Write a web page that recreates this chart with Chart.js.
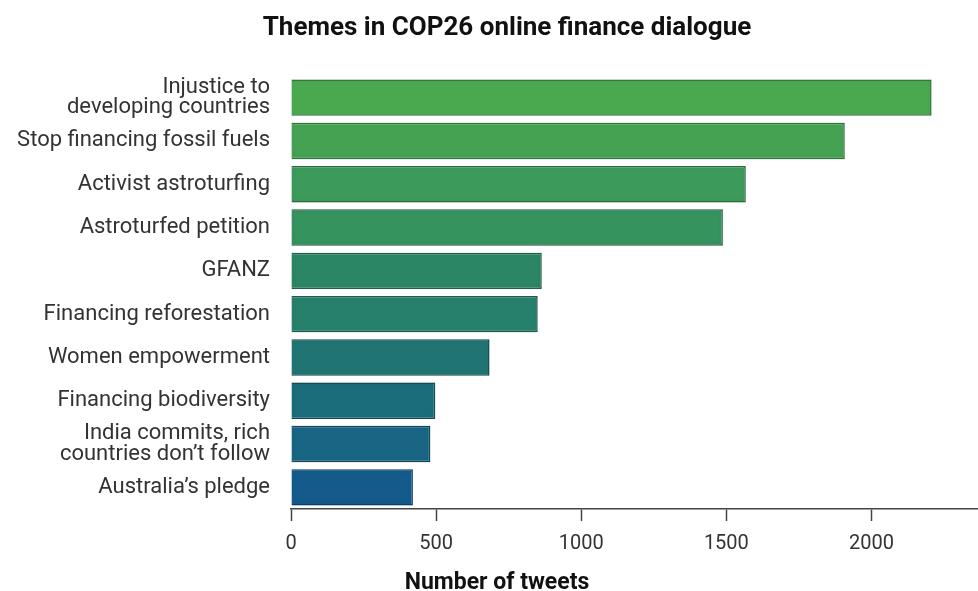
<!DOCTYPE html>
<html>
<head>
<meta charset="utf-8">
<script src="https://cdn.jsdelivr.net/npm/chart.js@4.4.1/dist/chart.umd.min.js"></script>
<style>
  html, body { margin: 0; padding: 0; background: #fff; }
  #wrap { width: 978px; height: 591px; }
</style>
</head>
<body>
<div id="wrap"><canvas id="themesChart"></canvas></div>
<script>
// tweet counts per theme, top to bottom
const themes = [
  ['Injustice to', 'developing countries'],
  'Stop financing fossil fuels',
  'Activist astroturfing',
  'Astroturfed petition',
  'GFANZ',
  'Financing reforestation',
  'Women empowerment',
  'Financing biodiversity',
  ['India commits, rich', 'countries don\u2019t follow'],
  'Australia\u2019s pledge'
];
const tweets = [2207, 1908, 1567, 1488, 864, 850, 684, 497, 480, 420];
const xTicks = [0, 500, 1000, 1500, 2000];

const chartTitle = 'Themes in COP26 online finance dialogue';
const xTitle = 'Number of tweets';

// green at the top fading to blue at the bottom
const barColors = ['#4aa94f', '#45a252', '#3c9a5a', '#35935e', '#2b8665', '#27806b', '#207573', '#1b6d7b', '#186683', '#145b8c'];
const edgeColors = ['#327a38', '#2f763b', '#2a7042', '#256a46', '#1f624b', '#1b5d50', '#165456', '#134e5c', '#114963', '#0d406a'];

const ctx = document.getElementById('themesChart').getContext('2d');
const font = 'Roboto, "Noto Sans", sans-serif';

// soft dark rim inside each bar
const barShade = {
  id: 'barShade',
  afterDatasetsDraw(chart) {
    const c = chart.ctx;
    chart.getDatasetMeta(0).data.forEach((bar) => {
      const left = Math.min(bar.base, bar.x);
      const w = Math.abs(bar.x - bar.base);
      const top = bar.y - bar.height / 2;
      c.save();
      c.beginPath();
      c.rect(left, top, w, bar.height);
      c.clip();
      c.shadowColor = 'rgba(0,0,0,0.35)';
      c.shadowBlur = 7;
      c.lineWidth = 6;
      c.strokeStyle = 'rgba(0,0,0,0.15)';
      c.strokeRect(left - 3, top - 3, w + 6, bar.height + 6);
      c.restore();
    });
  }
};

// heading and x axis caption, centred over the whole figure
const captions = {
  id: 'captions',
  afterDraw(chart) {
    const c = chart.ctx;
    c.save();
    c.fillStyle = '#111';
    c.textAlign = 'center';
    c.textBaseline = 'middle';
    c.font = 'bold 26px ' + font;
    c.fillText(chartTitle, 507, 28);
    c.textBaseline = 'alphabetic';
    c.font = 'bold 23px ' + font;
    c.fillText(xTitle, 497, 589);
    c.restore();
  }
};

const chart = new Chart(ctx, {
  type: 'bar',
  data: {
    labels: themes,
    datasets: [{
      label: xTitle,
      data: tweets,
      backgroundColor: barColors,
      borderColor: edgeColors,
      borderWidth: 1.5,
      barPercentage: 0.84,
      categoryPercentage: 1
    }]
  },
  plugins: [barShade, captions],
  options: {
    indexAxis: 'y',
    responsive: true,
    maintainAspectRatio: false,
    animation: false,
    layout: { padding: { left: 0, right: 0, top: 76, bottom: 24 } },
    plugins: {
      legend: { display: false },
      tooltip: { enabled: false },
      title: { display: false }
    },
    scales: {
      x: {
        min: 0,
        max: 2367,
        afterBuildTicks: (scale) => { scale.ticks = xTicks.map(v => ({ value: v })); },
        grid: { drawOnChartArea: false, drawTicks: true, tickLength: 12, color: '#444', tickWidth: 1.5 },
        border: { display: true, color: '#444', width: 1.5 },
        ticks: {
          color: '#333',
          padding: 11,
          font: { family: font, size: 20 },
          callback: (v) => String(v)
        }
      },
      y: {
        afterFit: (scale) => { scale.width = 291; },
        grid: { display: false },
        border: { display: false },
        ticks: {
          color: '#333',
          padding: 13,
          autoSkip: false,
          font: { family: font, size: 22, lineHeight: 0.92 }
        }
      }
    }
  }
});
</script>
</body>
</html>
